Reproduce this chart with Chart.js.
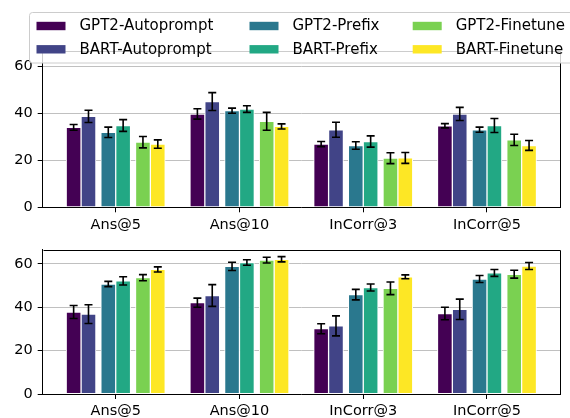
<!DOCTYPE html>
<html>
<head>
<meta charset="utf-8">
<script src="https://cdn.jsdelivr.net/npm/chart.js@4.4.1/dist/chart.umd.min.js"></script>
<style>
    body { margin: 0; background: #fff; }
    #wrap { position: relative; width: 570px; height: 418px; overflow: hidden; }
    canvas { position: absolute; left: 0; }
    #top-chart { top: 0; }
    #bottom-chart { top: 236px; }
</style>
</head>
<body>
<div id="wrap">
    <canvas id="top-chart" width="570" height="236"></canvas>
    <canvas id="bottom-chart" width="570" height="182"></canvas>
</div>
<script>
const categories = ['Ans@5', 'Ans@10', 'InCorr@3', 'InCorr@5'];
const seriesNames = ['GPT2-Autoprompt', 'BART-Autoprompt', 'GPT2-Prefix', 'BART-Prefix', 'GPT2-Finetune', 'BART-Finetune'];
const yTicks = [0, 20, 40, 60];

// one row per series, columns follow categories
const topMeans = [
    [34.0, 39.7, 26.9, 34.7],
    [38.7, 45.0, 33.0, 39.7],
    [31.9, 41.1, 26.3, 33.0],
    [34.8, 41.8, 28.0, 34.8],
    [27.7, 36.6, 20.9, 28.7],
    [26.9, 34.4, 21.0, 26.3]
];
const topErrs = [
    [1.2, 2.2, 1.1, 0.9],
    [2.6, 3.8, 3.2, 2.8],
    [2.2, 1.1, 1.6, 1.1],
    [2.5, 1.4, 2.4, 3.0],
    [2.4, 3.8, 2.3, 2.4],
    [1.8, 1.1, 2.3, 2.1]
];
const bottomMeans = [
    [37.8, 42.1, 30.1, 37.1],
    [36.8, 45.4, 31.4, 39.0],
    [50.7, 58.8, 45.8, 53.0],
    [52.1, 60.6, 49.1, 55.8],
    [53.6, 61.7, 48.7, 55.2],
    [57.4, 62.1, 54.0, 59.0]
];
const bottomErrs = [
    [3.0, 2.1, 2.3, 2.9],
    [4.3, 5.0, 4.6, 4.7],
    [1.2, 1.9, 2.4, 1.6],
    [1.9, 1.3, 1.6, 1.6],
    [1.4, 1.3, 2.9, 1.8],
    [1.2, 1.2, 0.9, 1.6]
];

const colors = ['#440154', '#414487', '#2a788e', '#22a884', '#7ad151', '#fde725'];
// bar offsets from category centre (pairs of bars, small gap between pairs)
const barOffsets = [-0.34, -0.22, -0.06, 0.06, 0.22, 0.34];
const FONT = 'DejaVu Sans';

function buildDatasets(means, errs) {
    return means.map((row, s) => ({
        label: seriesNames[s],
        data: row.map((v, i) => ({ x: i + barOffsets[s], y: v })),
        errors: errs[s],
        backgroundColor: colors[s],
        borderColor: '#ffffff',
        borderWidth: 1,
        borderSkipped: false,
        grouped: false,
        barThickness: 14.9
    }));
}

const errorBarsAndFrame = {
    id: 'errorBarsAndFrame',
    afterDatasetsDraw(chart) {
        const ctx = chart.ctx;
        const yScale = chart.scales.y;
        ctx.save();
        ctx.strokeStyle = '#000';
        ctx.lineWidth = 1.6;
        chart.data.datasets.forEach((ds, di) => {
            const meta = chart.getDatasetMeta(di);
            meta.data.forEach((bar, j) => {
                const v = ds.data[j].y, e = ds.errors[j];
                const yt = yScale.getPixelForValue(v + e);
                const yb = yScale.getPixelForValue(v - e);
                ctx.beginPath();
                ctx.moveTo(bar.x, yt); ctx.lineTo(bar.x, yb);
                ctx.moveTo(bar.x - 4, yt); ctx.lineTo(bar.x + 4, yt);
                ctx.moveTo(bar.x - 4, yb); ctx.lineTo(bar.x + 4, yb);
                ctx.stroke();
            });
        });
        // top and right spines
        const a = chart.chartArea;
        ctx.lineWidth = 1;
        ctx.beginPath();
        ctx.moveTo(Math.round(a.left) + 0.5, Math.round(a.top) + 0.5);
        ctx.lineTo(Math.round(a.right) + 0.5, Math.round(a.top) + 0.5);
        ctx.lineTo(Math.round(a.right) + 0.5, Math.round(a.bottom) + 0.5);
        ctx.stroke();
        ctx.restore();
    }
};

const legendBox = {
    id: 'legendBox',
    afterDraw(chart) {
        const ctx = chart.ctx;
        const colX = [36.5, 249.5, 412.7];
        const rowY = [26, 49.3];
        ctx.save();
        ctx.beginPath();
        ctx.roundRect(29.5, 12.5, 560, 50.5, 3);
        ctx.fillStyle = 'rgba(255,255,255,0.8)';
        ctx.fill();
        ctx.strokeStyle = '#cccccc';
        ctx.lineWidth = 1;
        ctx.stroke();
        ctx.font = '15px "' + FONT + '"';
        ctx.textBaseline = 'middle';
        seriesNames.forEach((name, s) => {
            const col = Math.floor(s / 2), row = s % 2;
            ctx.fillStyle = colors[s];
            ctx.fillRect(colX[col], rowY[row] - 4.2, 29, 8.4);
            ctx.fillStyle = '#000';
            ctx.fillText(name, colX[col] + 43, rowY[row] + 0.5);
        });
        ctx.restore();
    }
};

function makeChart(id, means, errs, padTop, xHeight, withLegend) {
    const plugins = [errorBarsAndFrame];
    if (withLegend) plugins.push(legendBox);
    return new Chart(document.getElementById(id), {
        type: 'bar',
        data: { datasets: buildDatasets(means, errs) },
        plugins: plugins,
        options: {
            responsive: false,
            animation: false,
            layout: { padding: { top: padTop, right: 10, left: 0, bottom: 0 } },
            plugins: { legend: { display: false }, tooltip: { enabled: false } },
            scales: {
                x: {
                    type: 'linear',
                    min: -0.59,
                    max: 3.59,
                    offset: false,
                    afterBuildTicks: s => { s.ticks = categories.map((c, i) => ({ value: i })); },
                    afterFit: s => { s.height = xHeight; },
                    ticks: {
                        callback: v => categories[v],
                        font: { family: FONT, size: 14.5 },
                        color: '#000',
                        padding: 4,
                        maxRotation: 0
                    },
                    grid: { offset: false, drawOnChartArea: false, tickLength: 5, tickColor: '#000', tickWidth: 1 },
                    border: { color: '#000', width: 1 }
                },
                y: {
                    min: 0,
                    max: 66.5,
                    afterBuildTicks: s => { s.ticks = yTicks.map(v => ({ value: v })); },
                    afterFit: s => { s.width = 42.7; },
                    ticks: {
                        font: { family: FONT, size: 14.5 },
                        color: '#000',
                        padding: 5
                    },
                    grid: { color: '#b0b0b0', lineWidth: 0.8, tickLength: 5, tickColor: '#000', tickWidth: 1 },
                    border: { color: '#000', width: 1 }
                }
            }
        }
    });
}

makeChart('top-chart', topMeans, topErrs, 51, 28.7, true);
makeChart('bottom-chart', bottomMeans, bottomErrs, 3, 24, false);
</script>
</body>
</html>
